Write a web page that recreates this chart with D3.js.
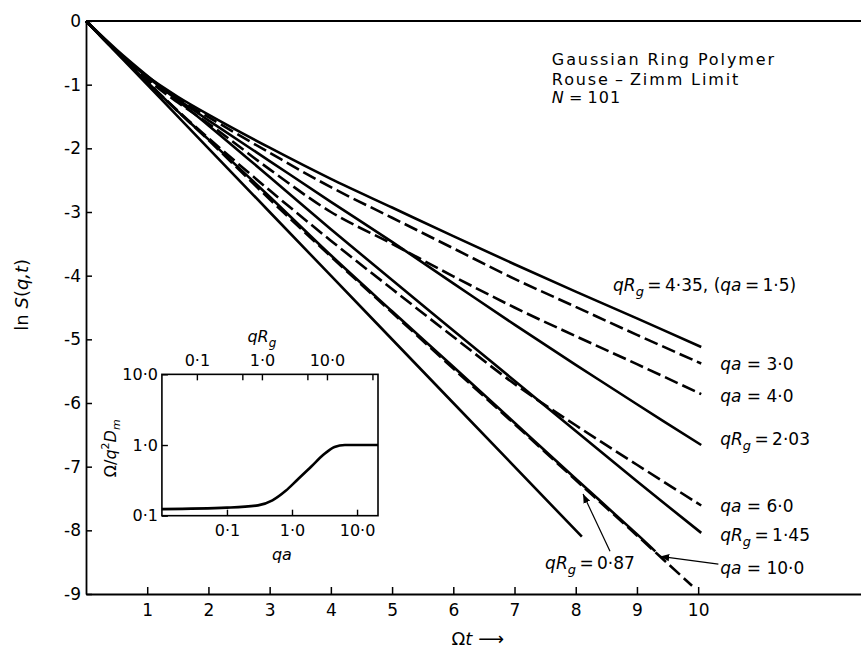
<!DOCTYPE html>
<html>
<head>
<meta charset="utf-8">
<script src="https://cdn.jsdelivr.net/npm/d3@7"></script>
<style>
  body { margin: 0; background: #fff; }
  text { font-family: "DejaVu Sans", sans-serif; fill: #000; }
</style>
</head>
<body>
<script>
//data - ln S(q,t)
var tStd = [0, 0.5, 1, 1.5, 2, 3, 4, 5, 6, 7, 8, 9, 10.05];
var lnS_qRg435 = [0, -0.47, -0.87, -1.19, -1.47, -1.99, -2.48, -2.93, -3.38, -3.82, -4.25, -4.67, -5.12];
var lnS_qa30   = [0, -0.48, -0.90, -1.22, -1.51, -2.07, -2.61, -3.09, -3.57, -4.05, -4.49, -4.93, -5.38];
var lnS_qa40   = [0, -0.48, -0.92, -1.28, -1.61, -2.33, -3.00, -3.50, -4.01, -4.50, -4.95, -5.39, -5.86];
var lnS_qRg203 = [0, -0.47, -0.88, -1.23, -1.56, -2.20, -2.84, -3.47, -4.12, -4.77, -5.40, -6.02, -6.66];
var lnS_qa60   = [0, -0.49, -0.96, -1.41, -1.84, -2.66, -3.45, -4.21, -4.96, -5.70, -6.35, -6.97, -7.61];
var lnS_qRg145 = [0, -0.45, -0.86, -1.25, -1.64, -2.45, -3.27, -4.07, -4.86, -5.65, -6.44, -7.23, -8.04];

var t_qRg087 = [0, 0.5, 1, 1.5, 2, 3, 4, 5, 6, 7, 8, 9, 9.3];
var lnS_qRg087 = [0, -0.49, -0.96, -1.42, -1.86, -2.76, -3.68, -4.56, -5.43, -6.31, -7.19, -8.06, -8.33];
var t_qa100 = [0, 0.5, 1, 1.5, 2, 3, 4, 5, 6, 7, 8, 9, 9.9];
var lnS_qa100 = [0, -0.49, -0.96, -1.42, -1.87, -2.80, -3.70, -4.58, -5.46, -6.33, -7.21, -8.08, -8.87];
var t_lim = [0, 2, 4, 6, 8.1];
var lnS_lim = [0, -2, -4, -6, -8.1];

//inset: Omega / q^2 D_m against qa
var inset_qa = [0.01, 0.1, 0.3, 0.5, 0.8, 1.2, 2.0, 3.0, 4.5, 6.5, 21];
var inset_ratio = [0.124, 0.13, 0.14, 0.165, 0.225, 0.32, 0.5, 0.72, 0.94, 1.0, 1.0];

var xTicks = [1, 2, 3, 4, 5, 6, 7, 8, 9, 10];
var yTicks = [0, -1, -2, -3, -4, -5, -6, -7, -8, -9];
var insetXTicks = [0.1, 1, 10];
var insetTopTicks = [0.1, 0.5, 1, 5, 10, 50];
var insetYTicks = [0.1, 1, 10];
var RgOverA = 2.9; // qRg = 2.9 qa for N = 101

var width = 861, height = 650;

var svg = d3.select("body").append("svg")
    .attr("width", width)
    .attr("height", height);

// main scales
var x = d3.scaleLinear().domain([0, 12.66]).range([86, 861]);
var y = d3.scaleLinear().domain([-9, 0]).range([594, 21]);

var line = d3.line()
    .x(function(d) { return x(d[0]); })
    .y(function(d) { return y(d[1]); })
    .curve(d3.curveCatmullRom.alpha(0.5));

function pairs(ts, vs) { return ts.map(function(t, i) { return [t, vs[i]]; }); }

var series = [
    { t: tStd, v: lnS_qRg435, dash: false },
    { t: tStd, v: lnS_qa30, dash: true },
    { t: tStd, v: lnS_qa40, dash: true },
    { t: tStd, v: lnS_qRg203, dash: false },
    { t: tStd, v: lnS_qa60, dash: true },
    { t: tStd, v: lnS_qRg145, dash: false },
    { t: t_qRg087, v: lnS_qRg087, dash: false },
    { t: t_qa100, v: lnS_qa100, dash: true },
    { t: t_lim, v: lnS_lim, dash: false }
];

// top frame line
svg.append("line")
    .attr("x1", x(0)).attr("x2", x(12.66))
    .attr("y1", y(0)).attr("y2", y(0))
    .attr("stroke", "#000").attr("stroke-width", 1.8);

// x axis
var xAxis = svg.append("g")
    .attr("transform", "translate(0," + y(-9) + ")")
    .call(d3.axisBottom(x).tickValues(xTicks).tickSizeInner(-7).tickSizeOuter(0).tickPadding(10)
        .tickFormat(function(d) { return d; }));
xAxis.select(".domain").attr("stroke-width", 1.8);
xAxis.selectAll("line").attr("stroke-width", 1.5);
xAxis.selectAll("text").style("font-size", "17px").style("font-family", "DejaVu Sans");

// y axis
var yAxis = svg.append("g")
    .attr("transform", "translate(" + x(0) + ",0)")
    .call(d3.axisLeft(y).tickValues(yTicks).tickSizeInner(-6).tickSizeOuter(0).tickPadding(5)
        .tickFormat(function(d) { return d == 0 ? "0" : "-" + Math.abs(d); }));
yAxis.select(".domain").attr("stroke-width", 1.8);
yAxis.selectAll("line").attr("stroke-width", 1.5);
yAxis.selectAll("text").style("font-size", "17px").style("font-family", "DejaVu Sans");

// axis titles
svg.append("text")
    .attr("transform", "translate(" + 28 + "," + y(-4.3) + ") rotate(-90)")
    .attr("text-anchor", "middle")
    .style("font-size", "18px")
    .html('ln <tspan font-style="italic">S</tspan>(<tspan font-style="italic">q,t</tspan>)');

svg.append("text")
    .attr("x", x(6.4)).attr("y", 645)
    .attr("text-anchor", "middle")
    .style("font-size", "18px")
    .html('Ω<tspan font-style="italic">t</tspan> ⟶');

// curves
svg.selectAll(".curve")
    .data(series)
    .enter().append("path")
    .attr("class", "curve")
    .attr("d", function(d) { return line(pairs(d.t, d.v)); })
    .attr("fill", "none")
    .attr("stroke", "#000")
    .attr("stroke-width", 2.6)
    .attr("stroke-dasharray", function(d) { return d.dash ? "14,5" : null; });

// title block
var title = ["Gaussian Ring Polymer", "Rouse\u2009\u2013\u2009Zimm Limit"];
title.forEach(function(s, i) {
    svg.append("text")
        .attr("x", x(7.61)).attr("y", y(-0.69 - 0.31 * i))
        .style("font-size", "16px")
        .style("letter-spacing", "1.9px")
        .text(s);
});
svg.append("text")
    .attr("x", x(7.61)).attr("y", y(-1.29))
    .style("font-size", "16px")
    .style("letter-spacing", "1px")
    .html('<tspan font-style="italic">N</tspan>\u2009=\u2009101');

// curve labels: [t, lnS, kind, value]
var labels = [
    [8.61, -4.24, "Rg", "4·35, (<tspan font-style='italic'>qa</tspan>\u2009=\u20091·5)"],
    [10.36, -5.48, "a", "3·0"],
    [10.36, -5.99, "a", "4·0"],
    [10.36, -6.66, "Rg", "2·03"],
    [10.36, -7.71, "a", "6·0"],
    [10.36, -8.17, "Rg", "1·45"],
    [10.36, -8.69, "a", "10·0"],
    [7.50, -8.60, "Rg", "0·87"]
];
labels.forEach(function(l) {
    var head = l[2] == "Rg"
        ? "<tspan font-style='italic'>qR</tspan><tspan font-style='italic' font-size='13px' dy='5'>g</tspan><tspan dy='-5'>\u2009=\u2009</tspan>"
        : "<tspan font-style='italic'>qa</tspan> = ";
    svg.append("text")
        .attr("x", x(l[0])).attr("y", y(l[1]))
        .style("font-size", "17px")
        .html(head + l[3]);
});

// arrows
svg.append("defs").append("marker")
    .attr("id", "arr")
    .attr("viewBox", "0 0 10 10")
    .attr("refX", 10).attr("refY", 5)
    .attr("markerWidth", 9).attr("markerHeight", 9)
    .attr("markerUnits", "userSpaceOnUse")
    .attr("orient", "auto")
    .append("path").attr("d", "M0,1 L10,5 L0,9 Z").attr("fill", "#000");

var arrows = [
    [8.56, -8.33, 8.12, -7.43],
    [10.33, -8.53, 9.38, -8.41]
];
arrows.forEach(function(a) {
    svg.append("line")
        .attr("x1", x(a[0])).attr("y1", y(a[1]))
        .attr("x2", x(a[2])).attr("y2", y(a[3]))
        .attr("stroke", "#000").attr("stroke-width", 1.2)
        .attr("marker-end", "url(#arr)");
});

// ---- inset ----
var ix = d3.scaleLog().domain([0.01, 21]).range([x(1.24), x(4.77)]);
var iy = d3.scaleLog().domain([0.1, 1, 10]).range([y(-7.77), y(-6.66), y(-5.55)]);
var ixTop = d3.scaleLog().domain([0.01 * RgOverA, 21 * RgOverA]).range(ix.range());

var inset = svg.append("g");

inset.append("rect")
    .attr("x", ix(0.01)).attr("y", iy(10))
    .attr("width", ix(21) - ix(0.01))
    .attr("height", iy(0.1) - iy(10))
    .attr("fill", "#fff")
    .attr("stroke", "#000").attr("stroke-width", 1.6);

var iBottom = inset.append("g")
    .attr("transform", "translate(0," + iy(0.1) + ")")
    .call(d3.axisBottom(ix).tickValues(insetXTicks).tickSizeInner(-6).tickSizeOuter(0).tickPadding(9)
        .tickFormat(function(d) { return d < 1 ? "0·1" : d < 5 ? "1·0" : "10·0"; }));

var iTop = inset.append("g")
    .attr("transform", "translate(0," + iy(10) + ")")
    .call(d3.axisTop(ixTop).tickValues(insetTopTicks).tickSizeInner(-6).tickSizeOuter(0).tickPadding(8)
        .tickFormat(function(d) { return d == 0.1 ? "0·1" : d == 1 ? "1·0" : d == 10 ? "10·0" : ""; }));

var iLeft = inset.append("g")
    .attr("transform", "translate(" + ix(0.01) + ",0)")
    .call(d3.axisLeft(iy).tickValues(insetYTicks).tickSizeInner(-6).tickSizeOuter(0).tickPadding(4)
        .tickFormat(function(d) { return d < 1 ? "0·1" : d < 5 ? "1·0" : "10·0"; }));

[iBottom, iTop, iLeft].forEach(function(g) {
    g.select(".domain").remove();
    g.selectAll("line").attr("stroke-width", 1.4);
    g.selectAll("text").style("font-size", "16px").style("font-family", "DejaVu Sans");
});

inset.append("path")
    .datum(inset_qa.map(function(q, i) { return [q, inset_ratio[i]]; }))
    .attr("d", d3.line()
        .x(function(d) { return ix(d[0]); })
        .y(function(d) { return iy(d[1]); })
        .curve(d3.curveMonotoneX))
    .attr("fill", "none")
    .attr("stroke", "#000")
    .attr("stroke-width", 2.6);

inset.append("text")
    .attr("x", ix(0.7)).attr("y", iy(0.1) + 44)
    .attr("text-anchor", "middle")
    .style("font-size", "16px").style("font-style", "italic")
    .text("qa");

inset.append("text")
    .attr("x", ixTop(1)).attr("y", iy(10) - 32)
    .attr("text-anchor", "middle")
    .style("font-size", "16px")
    .html("<tspan font-style='italic'>qR</tspan><tspan font-style='italic' font-size='12px' dy='5'>g</tspan>");

inset.append("text")
    .attr("transform", "translate(" + (ix(0.01) - 46) + "," + iy(0.9) + ") rotate(-90)")
    .attr("text-anchor", "middle")
    .style("font-size", "16px")
    .html("Ω/<tspan font-style='italic'>q</tspan><tspan font-size='11px' dy='-7'>2</tspan><tspan font-style='italic' dy='7'>D</tspan><tspan font-style='italic' font-size='11px' dy='4'>m</tspan>");
</script>
</body>
</html>
